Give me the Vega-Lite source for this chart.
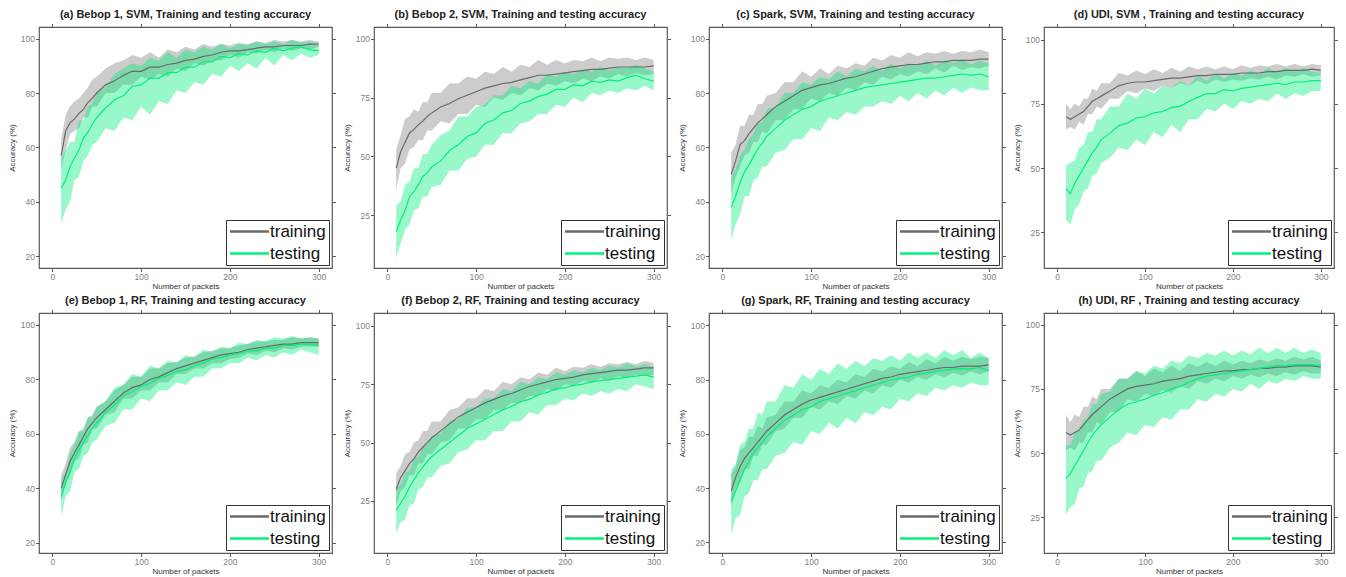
{
"$schema": "https://vega.github.io/schema/vega-lite/v6.json",
"background": "white",
"padding": {"left": 7, "top": 8, "right": 0, "bottom": 0},
"config": {
 "font": "Liberation Sans",
 "view": {"stroke": "#595959", "strokeWidth": 1.2},
 "axis": {"grid": false, "domain": false, "tickColor": "#595959", "tickSize": 3.5, "labelColor": "#7f7f7f", "labelFontSize": 8.5, "labelPadding": 1, "titleFontSize": 8, "titleFontWeight": "normal", "titleColor": "#333333"},
 "axisX": {"titlePadding": 1},
 "axisY": {"titlePadding": 4},
 "title": {"fontSize": 11, "fontWeight": "bold", "color": "#222222", "frame": "group", "anchor": "middle", "offset": 3},
 "legend": {"orient": "bottom-right", "offset": 3, "labelFontSize": 17, "labelColor": "#111111", "symbolType": "M-3,0H3", "symbolSize": 169, "symbolStrokeWidth": 2.5, "symbolOffset": 12, "labelOffset": 12, "strokeColor": "#333333", "fillColor": "white", "padding": 3, "rowPadding": 4}
},
"datasets": {
"a": [
{"x":10,"a":57,"b":52,"c":63,"d":45,"e":32,"f":56},
{"x":15,"a":66,"b":59,"c":72,"d":48,"e":37,"f":59},
{"x":20,"a":69,"b":65,"c":75,"d":53,"e":40,"f":62},
{"x":25,"a":70.5,"b":66,"c":77,"d":56,"e":48,"f":62},
{"x":30,"a":72.5,"b":67,"c":78,"d":59,"e":49,"f":70},
{"x":35,"a":74,"b":71,"c":80,"d":63.5,"e":55,"f":70},
{"x":40,"a":76.5,"b":71,"c":82,"d":65.5,"e":57,"f":75},
{"x":45,"a":78,"b":75,"c":85,"d":68.5,"e":61,"f":76},
{"x":50,"a":80,"b":75,"c":86,"d":71,"e":62,"f":80},
{"x":60,"a":83,"b":80,"c":89,"d":74.5,"e":67,"f":82},
{"x":70,"a":84.5,"b":80,"c":91,"d":77.5,"e":66,"f":87},
{"x":80,"a":86.5,"b":83,"c":92,"d":79,"e":71,"f":89},
{"x":90,"a":88,"b":83,"c":94,"d":82.5,"e":70,"f":91},
{"x":100,"a":88,"b":86,"c":93,"d":83,"e":75,"f":90},
{"x":110,"a":89.5,"b":85,"c":95,"d":85.5,"e":72,"f":93},
{"x":120,"a":89.5,"b":87,"c":93,"d":85.5,"e":77,"f":92},
{"x":130,"a":90.5,"b":86,"c":96,"d":87.5,"e":76,"f":95},
{"x":140,"a":91,"b":89,"c":95,"d":87.5,"e":81,"f":93},
{"x":150,"a":92,"b":88,"c":97,"d":89.5,"e":80,"f":96},
{"x":160,"a":92.5,"b":91,"c":96,"d":89.5,"e":84,"f":95},
{"x":170,"a":93.5,"b":90,"c":98,"d":91.5,"e":83,"f":97},
{"x":180,"a":94,"b":92,"c":97,"d":91.5,"e":87,"f":96},
{"x":190,"a":95,"b":92,"c":98,"d":93.5,"e":86,"f":98},
{"x":200,"a":95.5,"b":94,"c":97.5,"d":93,"e":90,"f":96.5},
{"x":210,"a":95.5,"b":93,"c":98.5,"d":94.5,"e":88,"f":98},
{"x":220,"a":96,"b":95,"c":98,"d":94,"e":91,"f":97.5},
{"x":230,"a":96.5,"b":94.5,"c":99,"d":95.5,"e":89,"f":99},
{"x":240,"a":97,"b":96,"c":98.5,"d":95,"e":93,"f":98},
{"x":250,"a":97,"b":95,"c":99.5,"d":96.5,"e":90,"f":99},
{"x":260,"a":97.5,"b":96.5,"c":99,"d":95.5,"e":94,"f":98},
{"x":270,"a":97.5,"b":95.5,"c":99.5,"d":96.5,"e":92,"f":99.5},
{"x":280,"a":97.5,"b":96.5,"c":99,"d":97,"e":94.5,"f":98.5},
{"x":290,"a":98,"b":96,"c":99.5,"d":96,"e":93,"f":99},
{"x":300,"a":98,"b":97,"c":99,"d":95.5,"e":94,"f":97.5}
],
"b": [
{"x":10,"a":45,"b":36,"c":53,"d":18,"e":7,"f":29},
{"x":15,"a":52,"b":45,"c":59,"d":23,"e":13,"f":31},
{"x":20,"a":56,"b":47,"c":66,"d":27,"e":19,"f":38},
{"x":25,"a":60,"b":53,"c":67,"d":33,"e":21,"f":39},
{"x":30,"a":61.5,"b":54,"c":70,"d":35,"e":27,"f":45},
{"x":35,"a":63.5,"b":57,"c":69,"d":38,"e":28,"f":45},
{"x":40,"a":65,"b":57,"c":73,"d":41.5,"e":33,"f":51},
{"x":45,"a":67,"b":61,"c":73,"d":43,"e":33,"f":51},
{"x":50,"a":68.5,"b":61,"c":77,"d":45.5,"e":37,"f":55},
{"x":60,"a":71,"b":65,"c":77,"d":48,"e":38,"f":59},
{"x":70,"a":72.5,"b":64,"c":81,"d":52.5,"e":44,"f":61},
{"x":80,"a":74.5,"b":68,"c":81,"d":55,"e":44,"f":67},
{"x":90,"a":76,"b":68,"c":84,"d":58.5,"e":49,"f":67},
{"x":100,"a":77.5,"b":72,"c":83,"d":60,"e":50,"f":71},
{"x":110,"a":79,"b":71,"c":86,"d":64,"e":55,"f":72},
{"x":120,"a":80,"b":75,"c":85,"d":65.5,"e":55,"f":76},
{"x":130,"a":81,"b":74,"c":88,"d":68.5,"e":60,"f":76},
{"x":140,"a":81.5,"b":77,"c":86,"d":69.5,"e":60,"f":80},
{"x":150,"a":82.5,"b":76,"c":89,"d":72.5,"e":64,"f":79},
{"x":160,"a":83.5,"b":79,"c":88,"d":73.5,"e":65,"f":82},
{"x":170,"a":84.5,"b":78,"c":91,"d":75.5,"e":68,"f":81},
{"x":180,"a":84.5,"b":81,"c":89,"d":76.5,"e":68,"f":85},
{"x":190,"a":85,"b":80,"c":91,"d":78.5,"e":72,"f":84},
{"x":200,"a":85.5,"b":82,"c":89.5,"d":78.5,"e":71,"f":86},
{"x":210,"a":86,"b":81,"c":91,"d":80.5,"e":75,"f":85},
{"x":220,"a":86.5,"b":83,"c":90.5,"d":80,"e":73,"f":87},
{"x":230,"a":87,"b":82,"c":92,"d":82,"e":77,"f":86},
{"x":240,"a":87,"b":84,"c":90.5,"d":81.5,"e":76,"f":88},
{"x":250,"a":87.5,"b":83,"c":92,"d":82.5,"e":78,"f":86.5},
{"x":260,"a":88,"b":85,"c":91.5,"d":82,"e":77,"f":88},
{"x":270,"a":88,"b":84,"c":92,"d":83.5,"e":79,"f":87.5},
{"x":280,"a":88,"b":85.5,"c":91,"d":84.5,"e":78,"f":89},
{"x":290,"a":88,"b":84.5,"c":92,"d":83,"e":80,"f":87.5},
{"x":300,"a":88.5,"b":85,"c":91,"d":82,"e":78,"f":86}
],
"c": [
{"x":10,"a":50,"b":43,"c":58,"d":38,"e":26,"f":49},
{"x":15,"a":55,"b":49,"c":61,"d":42,"e":32,"f":52},
{"x":20,"a":61,"b":53,"c":68,"d":47,"e":35,"f":57},
{"x":25,"a":62.5,"b":57,"c":68,"d":51,"e":42,"f":59},
{"x":30,"a":65,"b":58,"c":72,"d":53.5,"e":42,"f":63},
{"x":35,"a":67,"b":62,"c":72,"d":56.5,"e":48,"f":65},
{"x":40,"a":69,"b":62,"c":76,"d":59.5,"e":49,"f":69},
{"x":45,"a":70.5,"b":66,"c":76,"d":61.5,"e":53,"f":69},
{"x":50,"a":72,"b":65,"c":79,"d":64,"e":53,"f":74},
{"x":60,"a":75,"b":70,"c":80,"d":67,"e":58,"f":75},
{"x":70,"a":77,"b":70,"c":84,"d":70,"e":59,"f":80},
{"x":80,"a":79,"b":74,"c":84,"d":72,"e":63,"f":80},
{"x":90,"a":81,"b":74,"c":88,"d":74,"e":63,"f":84},
{"x":100,"a":82,"b":78,"c":86,"d":75,"e":67,"f":83},
{"x":110,"a":83,"b":77,"c":89,"d":77,"e":66,"f":86},
{"x":120,"a":83.5,"b":80,"c":87,"d":78,"e":71,"f":85},
{"x":130,"a":84.5,"b":79,"c":90,"d":79,"e":70,"f":88},
{"x":140,"a":85.5,"b":82,"c":89,"d":80,"e":73,"f":86},
{"x":150,"a":86,"b":81,"c":91,"d":81,"e":72,"f":89},
{"x":160,"a":87,"b":84,"c":90,"d":82,"e":75,"f":88},
{"x":170,"a":88,"b":83,"c":93,"d":82.5,"e":75,"f":90},
{"x":180,"a":89,"b":86,"c":92,"d":83,"e":77,"f":88},
{"x":190,"a":89.5,"b":85,"c":94,"d":83.5,"e":76,"f":91},
{"x":200,"a":90,"b":87,"c":93,"d":84,"e":79,"f":89},
{"x":210,"a":90.5,"b":86,"c":95,"d":84.5,"e":77,"f":91},
{"x":220,"a":90.5,"b":88,"c":93.5,"d":85,"e":80,"f":90},
{"x":230,"a":91,"b":87,"c":95,"d":85.5,"e":78,"f":92},
{"x":240,"a":91.5,"b":89,"c":94.5,"d":85.5,"e":81,"f":90},
{"x":250,"a":91.5,"b":87.5,"c":95.5,"d":86,"e":79,"f":92},
{"x":260,"a":92,"b":90,"c":94.5,"d":86.5,"e":82,"f":91},
{"x":270,"a":92,"b":88.5,"c":95.5,"d":87,"e":80,"f":92.5},
{"x":280,"a":92,"b":89.5,"c":95,"d":86.5,"e":82,"f":90.5},
{"x":290,"a":92.5,"b":89,"c":96,"d":87,"e":81,"f":92},
{"x":300,"a":92.5,"b":90,"c":95,"d":86,"e":81,"f":91}
],
"d": [
{"x":10,"a":70,"b":65,"c":75,"d":42,"e":30,"f":51},
{"x":15,"a":69,"b":66,"c":73,"d":40,"e":28,"f":52},
{"x":20,"a":70,"b":65,"c":75,"d":44,"e":34,"f":53},
{"x":25,"a":71,"b":68,"c":74,"d":47,"e":36,"f":58},
{"x":30,"a":72,"b":67,"c":77,"d":50,"e":41,"f":59},
{"x":35,"a":74,"b":71,"c":77,"d":53,"e":42,"f":64},
{"x":40,"a":76,"b":71,"c":81,"d":56,"e":47,"f":64},
{"x":45,"a":77,"b":74,"c":80,"d":58,"e":48,"f":69},
{"x":50,"a":78,"b":73,"c":83,"d":61,"e":52,"f":69},
{"x":60,"a":80,"b":77,"c":83,"d":63.5,"e":54,"f":74},
{"x":70,"a":82,"b":77,"c":87,"d":66.5,"e":58,"f":74},
{"x":80,"a":83,"b":80,"c":86,"d":67.5,"e":57,"f":79},
{"x":90,"a":83.5,"b":79,"c":88,"d":69.5,"e":61,"f":77},
{"x":100,"a":83.5,"b":81,"c":86.5,"d":70,"e":59,"f":81},
{"x":110,"a":84,"b":80,"c":88.5,"d":71.5,"e":64,"f":79},
{"x":120,"a":84.5,"b":82,"c":87,"d":72,"e":62,"f":82},
{"x":130,"a":85,"b":81,"c":89,"d":73.5,"e":67,"f":81},
{"x":140,"a":85,"b":83,"c":87.5,"d":74,"e":64,"f":84},
{"x":150,"a":85.5,"b":82,"c":89.5,"d":76,"e":69,"f":82},
{"x":160,"a":86,"b":84,"c":88.5,"d":77.5,"e":69,"f":86},
{"x":170,"a":86,"b":82.5,"c":89.5,"d":79,"e":73,"f":84},
{"x":180,"a":86.5,"b":84.5,"c":88.5,"d":79,"e":72,"f":87},
{"x":190,"a":86.5,"b":83.5,"c":89.5,"d":80.5,"e":75,"f":85},
{"x":200,"a":86.5,"b":84.5,"c":88.5,"d":80,"e":73,"f":87},
{"x":210,"a":87,"b":84,"c":90,"d":81,"e":76,"f":86},
{"x":220,"a":87,"b":85,"c":89,"d":81.5,"e":75,"f":88},
{"x":230,"a":87,"b":84.5,"c":90,"d":82,"e":77,"f":86.5},
{"x":240,"a":87.5,"b":85.5,"c":89.5,"d":82.5,"e":76,"f":89},
{"x":250,"a":87.5,"b":84.5,"c":90.5,"d":83,"e":79,"f":87.5},
{"x":260,"a":88,"b":86,"c":89.5,"d":82.5,"e":77,"f":89},
{"x":270,"a":88,"b":85.5,"c":90.5,"d":83.5,"e":79,"f":87.5},
{"x":280,"a":88,"b":86.5,"c":89.5,"d":83.5,"e":78,"f":89},
{"x":290,"a":88.5,"b":85.5,"c":90.5,"d":84,"e":80,"f":87.5},
{"x":300,"a":88,"b":86,"c":90,"d":84,"e":80,"f":87}
],
"e": [
{"x":10,"a":40,"b":35,"c":45,"d":37,"e":30,"f":43},
{"x":15,"a":45,"b":42,"c":49,"d":42,"e":37,"f":46},
{"x":20,"a":50,"b":45,"c":55,"d":46,"e":39,"f":53},
{"x":25,"a":53,"b":50,"c":57,"d":51,"e":46,"f":56},
{"x":30,"a":56,"b":51,"c":61,"d":54,"e":47,"f":61},
{"x":35,"a":59,"b":56,"c":62,"d":57,"e":52,"f":61},
{"x":40,"a":62,"b":57,"c":66,"d":59.5,"e":53,"f":66},
{"x":45,"a":64,"b":62,"c":67,"d":62,"e":57,"f":66},
{"x":50,"a":66,"b":62,"c":70,"d":64,"e":58,"f":70},
{"x":60,"a":69,"b":67,"c":72,"d":68,"e":63,"f":72},
{"x":70,"a":72,"b":68,"c":76,"d":70.5,"e":64,"f":77},
{"x":80,"a":75,"b":73,"c":78,"d":74,"e":69,"f":78},
{"x":90,"a":77,"b":73,"c":81,"d":75.5,"e":69,"f":82},
{"x":100,"a":78,"b":76,"c":81,"d":77.5,"e":73,"f":81},
{"x":110,"a":80,"b":76,"c":84,"d":78.5,"e":72,"f":85},
{"x":120,"a":81,"b":79,"c":84,"d":80.5,"e":76,"f":84},
{"x":130,"a":82.5,"b":79,"c":86,"d":81.5,"e":76,"f":87},
{"x":140,"a":84,"b":82,"c":86.5,"d":83,"e":79,"f":86},
{"x":150,"a":85,"b":82,"c":88,"d":83.5,"e":78,"f":89},
{"x":160,"a":86,"b":84,"c":88.5,"d":85,"e":81,"f":88},
{"x":170,"a":87,"b":84,"c":90,"d":86,"e":81,"f":91},
{"x":180,"a":88,"b":86,"c":90.5,"d":87.5,"e":84,"f":90},
{"x":190,"a":89,"b":86,"c":91.5,"d":88,"e":84,"f":92},
{"x":200,"a":89.5,"b":87.5,"c":91.5,"d":89,"e":86,"f":91.5},
{"x":210,"a":90,"b":88,"c":92.5,"d":89.5,"e":86,"f":93.5},
{"x":220,"a":91,"b":89.5,"c":93,"d":90.5,"e":88,"f":93},
{"x":230,"a":91.5,"b":89,"c":94,"d":90.5,"e":87,"f":94.5},
{"x":240,"a":92,"b":90.5,"c":94,"d":91.5,"e":89,"f":94},
{"x":250,"a":92.5,"b":90,"c":94.5,"d":91.5,"e":88,"f":95.5},
{"x":260,"a":93,"b":91.5,"c":94.5,"d":92.5,"e":90,"f":95},
{"x":270,"a":93,"b":91,"c":95.5,"d":92.5,"e":89,"f":96},
{"x":280,"a":93.5,"b":92,"c":95,"d":93,"e":91,"f":95},
{"x":290,"a":93.5,"b":92,"c":95.5,"d":93,"e":90,"f":95.5},
{"x":300,"a":93.5,"b":92,"c":95,"d":92.5,"e":89,"f":95}
],
"f": [
{"x":10,"a":30,"b":23,"c":37,"d":21,"e":11,"f":30},
{"x":15,"a":35,"b":29,"c":40,"d":24,"e":16,"f":32},
{"x":20,"a":38,"b":31,"c":45,"d":27,"e":17,"f":37},
{"x":25,"a":41,"b":36,"c":46,"d":31,"e":23,"f":38},
{"x":30,"a":43,"b":36,"c":50,"d":34,"e":24,"f":43},
{"x":35,"a":46,"b":41,"c":51,"d":37,"e":30,"f":44},
{"x":40,"a":48,"b":41,"c":55,"d":39.5,"e":31,"f":48},
{"x":45,"a":50,"b":45,"c":55,"d":42,"e":35,"f":49},
{"x":50,"a":52,"b":45,"c":59,"d":44,"e":35,"f":53},
{"x":60,"a":55,"b":50,"c":59,"d":47,"e":40,"f":54},
{"x":70,"a":58,"b":51,"c":64,"d":50,"e":41,"f":59},
{"x":80,"a":61,"b":56,"c":65,"d":53,"e":46,"f":60},
{"x":90,"a":63,"b":56,"c":69,"d":56,"e":47,"f":65},
{"x":100,"a":65,"b":60,"c":69,"d":58,"e":51,"f":65},
{"x":110,"a":67,"b":60,"c":73,"d":60,"e":51,"f":69},
{"x":120,"a":68.5,"b":64,"c":72,"d":62,"e":55,"f":69},
{"x":130,"a":70,"b":64,"c":76,"d":64,"e":55,"f":73},
{"x":140,"a":71,"b":67,"c":75,"d":65.5,"e":59,"f":72},
{"x":150,"a":72.5,"b":67,"c":78,"d":67.5,"e":59,"f":76},
{"x":160,"a":74,"b":70,"c":77,"d":68.5,"e":63,"f":75},
{"x":170,"a":75,"b":70,"c":80,"d":70.5,"e":62,"f":78},
{"x":180,"a":76,"b":73,"c":79,"d":71.5,"e":66,"f":77},
{"x":190,"a":77,"b":72,"c":82,"d":73,"e":66,"f":80},
{"x":200,"a":77.5,"b":75,"c":80.5,"d":73.5,"e":69,"f":79},
{"x":210,"a":78,"b":74,"c":82.5,"d":74.5,"e":68,"f":81},
{"x":220,"a":79,"b":76.5,"c":82,"d":75,"e":71,"f":80},
{"x":230,"a":79.5,"b":75.5,"c":83.5,"d":76,"e":70,"f":82},
{"x":240,"a":80,"b":77.5,"c":82.5,"d":76.5,"e":72,"f":81},
{"x":250,"a":80.5,"b":76.5,"c":84,"d":77,"e":71,"f":83},
{"x":260,"a":81,"b":78.5,"c":83.5,"d":77.5,"e":73,"f":82},
{"x":270,"a":81,"b":77.5,"c":84.5,"d":78,"e":72,"f":84},
{"x":280,"a":81.5,"b":79,"c":83.5,"d":78.5,"e":75,"f":82.5},
{"x":290,"a":82,"b":78.5,"c":85,"d":79,"e":74,"f":83.5},
{"x":300,"a":82,"b":79,"c":84,"d":78,"e":73,"f":82}
],
"g": [
{"x":10,"a":39,"b":33,"c":45,"d":35,"e":23,"f":47},
{"x":15,"a":44,"b":40,"c":48,"d":39,"e":29,"f":49},
{"x":20,"a":48,"b":42,"c":54,"d":43,"e":30,"f":56},
{"x":25,"a":51,"b":47,"c":55,"d":47,"e":37,"f":57},
{"x":30,"a":53,"b":47,"c":59,"d":50,"e":38,"f":62},
{"x":35,"a":55,"b":52,"c":59,"d":53,"e":43,"f":62},
{"x":40,"a":57,"b":52,"c":63,"d":55,"e":43,"f":68},
{"x":45,"a":59,"b":56,"c":62,"d":57,"e":47,"f":67},
{"x":50,"a":61,"b":56,"c":66,"d":59,"e":47,"f":72},
{"x":60,"a":64,"b":61,"c":67,"d":62,"e":52,"f":72},
{"x":70,"a":67,"b":62,"c":72,"d":65,"e":53,"f":78},
{"x":80,"a":69,"b":66,"c":72,"d":67,"e":57,"f":77},
{"x":90,"a":71,"b":66,"c":76,"d":69,"e":56,"f":82},
{"x":100,"a":72.5,"b":70,"c":75,"d":70,"e":61,"f":80},
{"x":110,"a":73.5,"b":69,"c":78,"d":72,"e":60,"f":84},
{"x":120,"a":74.5,"b":72,"c":77,"d":73,"e":64,"f":82},
{"x":130,"a":75.5,"b":71,"c":80,"d":74,"e":62,"f":86},
{"x":140,"a":76.5,"b":74,"c":79,"d":75,"e":66,"f":84},
{"x":150,"a":77.5,"b":73,"c":82,"d":76,"e":64,"f":87},
{"x":160,"a":78.5,"b":76,"c":81,"d":77,"e":68,"f":85},
{"x":170,"a":79.5,"b":75,"c":84,"d":78,"e":67,"f":88},
{"x":180,"a":80.5,"b":78,"c":83,"d":79,"e":70,"f":87},
{"x":190,"a":81,"b":77,"c":85,"d":80,"e":69,"f":89},
{"x":200,"a":82,"b":80,"c":84,"d":80.5,"e":73,"f":87},
{"x":210,"a":82.5,"b":79,"c":86.5,"d":81,"e":72,"f":90},
{"x":220,"a":83,"b":81,"c":85,"d":82,"e":75,"f":88},
{"x":230,"a":83.5,"b":80,"c":87.5,"d":82.5,"e":74,"f":90},
{"x":240,"a":84,"b":82,"c":86,"d":83,"e":77,"f":88},
{"x":250,"a":84.5,"b":81,"c":88.5,"d":83.5,"e":76,"f":91},
{"x":260,"a":84.5,"b":82.5,"c":87,"d":84,"e":78,"f":89},
{"x":270,"a":85,"b":81.5,"c":88.5,"d":84,"e":77,"f":91},
{"x":280,"a":85,"b":83,"c":87.5,"d":84,"e":79,"f":88},
{"x":290,"a":85,"b":82,"c":88.5,"d":84.5,"e":78,"f":90},
{"x":300,"a":85.5,"b":83,"c":88,"d":83.5,"e":78,"f":88}
],
"h": [
{"x":10,"a":58,"b":51,"c":65,"d":40,"e":26,"f":53},
{"x":15,"a":57,"b":52,"c":62,"d":42,"e":29,"f":53},
{"x":20,"a":58,"b":51,"c":65,"d":45,"e":30,"f":58},
{"x":25,"a":59,"b":54,"c":64,"d":48,"e":36,"f":59},
{"x":30,"a":61,"b":54,"c":68,"d":51,"e":37,"f":63},
{"x":35,"a":63,"b":58,"c":68,"d":54,"e":42,"f":64},
{"x":40,"a":65,"b":58,"c":72,"d":57,"e":43,"f":69},
{"x":45,"a":66.5,"b":62,"c":71,"d":59,"e":47,"f":69},
{"x":50,"a":68,"b":61,"c":75,"d":61,"e":47,"f":73},
{"x":60,"a":71,"b":66,"c":75,"d":64,"e":52,"f":74},
{"x":70,"a":73,"b":66,"c":79,"d":67,"e":54,"f":79},
{"x":80,"a":75,"b":71,"c":79,"d":69,"e":58,"f":79},
{"x":90,"a":76,"b":70,"c":82,"d":70,"e":57,"f":82},
{"x":100,"a":76.5,"b":73,"c":80,"d":71,"e":61,"f":81},
{"x":110,"a":77,"b":72,"c":83,"d":72.5,"e":60,"f":84},
{"x":120,"a":78,"b":74.5,"c":81.5,"d":73.5,"e":64,"f":83},
{"x":130,"a":78.5,"b":73.5,"c":84,"d":75,"e":63,"f":86},
{"x":140,"a":79,"b":76,"c":82,"d":76,"e":67,"f":85},
{"x":150,"a":80,"b":75,"c":85,"d":77.5,"e":67,"f":88},
{"x":160,"a":80.5,"b":78,"c":83.5,"d":79,"e":71,"f":87},
{"x":170,"a":81,"b":77,"c":85.5,"d":80,"e":70,"f":89},
{"x":180,"a":81.5,"b":79,"c":84,"d":80.5,"e":73,"f":88},
{"x":190,"a":82,"b":78,"c":86,"d":81,"e":72,"f":90},
{"x":200,"a":82,"b":80,"c":84.5,"d":81.5,"e":75,"f":88},
{"x":210,"a":82.5,"b":79,"c":86,"d":82,"e":74,"f":90},
{"x":220,"a":82.5,"b":80.5,"c":85,"d":82.5,"e":77,"f":88.5},
{"x":230,"a":83,"b":79.5,"c":86.5,"d":83,"e":75,"f":91},
{"x":240,"a":83,"b":81,"c":85.5,"d":83.5,"e":78,"f":89},
{"x":250,"a":83.5,"b":80,"c":87,"d":84,"e":77,"f":91},
{"x":260,"a":83.5,"b":81.5,"c":86,"d":84,"e":79,"f":89},
{"x":270,"a":84,"b":80.5,"c":87.5,"d":84.5,"e":78,"f":91},
{"x":280,"a":84,"b":82,"c":86.5,"d":84.5,"e":80,"f":89},
{"x":290,"a":84,"b":81,"c":87.5,"d":84.5,"e":79,"f":90.5},
{"x":300,"a":83.5,"b":81,"c":86,"d":84,"e":79,"f":89}
]
},
"spacing": 3,
"resolve": {"scale": {"color": "independent"}, "legend": {"color": "independent"}},
"vconcat": [
{"hconcat": [
{"width": 293, "height": 241, "title": "(a) Bebop 1, SVM, Training and testing accuracy", "data": {"name": "a"},
 "resolve": {"axis": {"x": "independent", "y": "independent"}},
 "layer": [
  {"mark": {"type": "area", "color": "#999999", "opacity": 0.5}, "encoding": {"x": {"field": "x", "type": "quantitative", "scale": {"domain": [-15, 315], "nice": false, "zero": false}, "axis": {"values": [0, 100, 200, 300], "title": "Number of packets"}}, "y": {"field": "b", "type": "quantitative", "scale": {"domain": [15.6, 104.3], "nice": false, "zero": false}, "axis": {"values": [20, 40, 60, 80, 100], "title": "Accuracy (%)"}}, "y2": {"field": "c"}}},
  {"mark": {"type": "area", "color": "#00ee77", "opacity": 0.4}, "encoding": {"x": {"field": "x", "type": "quantitative", "axis": null}, "y": {"field": "e", "type": "quantitative", "axis": null}, "y2": {"field": "f"}}},
  {"mark": {"type": "line", "strokeWidth": 1.2}, "encoding": {"x": {"field": "x", "type": "quantitative", "axis": null}, "y": {"field": "a", "type": "quantitative", "axis": null}, "color": {"datum": "training", "type": "nominal", "scale": {"domain": ["training", "testing"], "range": ["#6a6a6a", "#00f07a"]}, "legend": {"title": null}}}},
  {"mark": {"type": "line", "strokeWidth": 1.2}, "encoding": {"x": {"field": "x", "type": "quantitative", "axis": {"orient": "top", "labels": false, "title": null, "values": [0, 100, 200, 300]}}, "y": {"field": "d", "type": "quantitative", "axis": {"orient": "right", "labels": false, "title": null, "values": [20, 40, 60, 80, 100]}}, "color": {"datum": "testing", "type": "nominal"}}}
 ]},
{"width": 293, "height": 241, "title": "(b) Bebop 2, SVM, Training and testing accuracy", "data": {"name": "b"},
 "resolve": {"axis": {"x": "independent", "y": "independent"}},
 "layer": [
  {"mark": {"type": "area", "color": "#999999", "opacity": 0.5}, "encoding": {"x": {"field": "x", "type": "quantitative", "scale": {"domain": [-15, 315], "nice": false, "zero": false}, "axis": {"values": [0, 100, 200, 300], "title": "Number of packets"}}, "y": {"field": "b", "type": "quantitative", "scale": {"domain": [2.6, 105], "nice": false, "zero": false}, "axis": {"values": [25, 50, 75, 100], "title": "Accuracy (%)"}}, "y2": {"field": "c"}}},
  {"mark": {"type": "area", "color": "#00ee77", "opacity": 0.4}, "encoding": {"x": {"field": "x", "type": "quantitative", "axis": null}, "y": {"field": "e", "type": "quantitative", "axis": null}, "y2": {"field": "f"}}},
  {"mark": {"type": "line", "strokeWidth": 1.2}, "encoding": {"x": {"field": "x", "type": "quantitative", "axis": null}, "y": {"field": "a", "type": "quantitative", "axis": null}, "color": {"datum": "training", "type": "nominal", "scale": {"domain": ["training", "testing"], "range": ["#6a6a6a", "#00f07a"]}, "legend": {"title": null}}}},
  {"mark": {"type": "line", "strokeWidth": 1.2}, "encoding": {"x": {"field": "x", "type": "quantitative", "axis": {"orient": "top", "labels": false, "title": null, "values": [0, 100, 200, 300]}}, "y": {"field": "d", "type": "quantitative", "axis": {"orient": "right", "labels": false, "title": null, "values": [25, 50, 75, 100]}}, "color": {"datum": "testing", "type": "nominal"}}}
 ]},
{"width": 293, "height": 241, "title": "(c) Spark, SVM, Training and testing accuracy", "data": {"name": "c"},
 "resolve": {"axis": {"x": "independent", "y": "independent"}},
 "layer": [
  {"mark": {"type": "area", "color": "#999999", "opacity": 0.5}, "encoding": {"x": {"field": "x", "type": "quantitative", "scale": {"domain": [-15, 315], "nice": false, "zero": false}, "axis": {"values": [0, 100, 200, 300], "title": "Number of packets"}}, "y": {"field": "b", "type": "quantitative", "scale": {"domain": [15.6, 104.3], "nice": false, "zero": false}, "axis": {"values": [20, 40, 60, 80, 100], "title": "Accuracy (%)"}}, "y2": {"field": "c"}}},
  {"mark": {"type": "area", "color": "#00ee77", "opacity": 0.4}, "encoding": {"x": {"field": "x", "type": "quantitative", "axis": null}, "y": {"field": "e", "type": "quantitative", "axis": null}, "y2": {"field": "f"}}},
  {"mark": {"type": "line", "strokeWidth": 1.2}, "encoding": {"x": {"field": "x", "type": "quantitative", "axis": null}, "y": {"field": "a", "type": "quantitative", "axis": null}, "color": {"datum": "training", "type": "nominal", "scale": {"domain": ["training", "testing"], "range": ["#6a6a6a", "#00f07a"]}, "legend": {"title": null}}}},
  {"mark": {"type": "line", "strokeWidth": 1.2}, "encoding": {"x": {"field": "x", "type": "quantitative", "axis": {"orient": "top", "labels": false, "title": null, "values": [0, 100, 200, 300]}}, "y": {"field": "d", "type": "quantitative", "axis": {"orient": "right", "labels": false, "title": null, "values": [20, 40, 60, 80, 100]}}, "color": {"datum": "testing", "type": "nominal"}}}
 ]},
{"width": 290, "height": 241, "title": "(d) UDI, SVM , Training and testing accuracy", "data": {"name": "d"},
 "resolve": {"axis": {"x": "independent", "y": "independent"}},
 "layer": [
  {"mark": {"type": "area", "color": "#999999", "opacity": 0.5}, "encoding": {"x": {"field": "x", "type": "quantitative", "scale": {"domain": [-15, 315], "nice": false, "zero": false}, "axis": {"values": [0, 100, 200, 300], "title": "Number of packets"}}, "y": {"field": "b", "type": "quantitative", "scale": {"domain": [11.1, 104.9], "nice": false, "zero": false}, "axis": {"values": [25, 50, 75, 100], "title": "Accuracy (%)"}}, "y2": {"field": "c"}}},
  {"mark": {"type": "area", "color": "#00ee77", "opacity": 0.4}, "encoding": {"x": {"field": "x", "type": "quantitative", "axis": null}, "y": {"field": "e", "type": "quantitative", "axis": null}, "y2": {"field": "f"}}},
  {"mark": {"type": "line", "strokeWidth": 1.2}, "encoding": {"x": {"field": "x", "type": "quantitative", "axis": null}, "y": {"field": "a", "type": "quantitative", "axis": null}, "color": {"datum": "training", "type": "nominal", "scale": {"domain": ["training", "testing"], "range": ["#6a6a6a", "#00f07a"]}, "legend": {"title": null}}}},
  {"mark": {"type": "line", "strokeWidth": 1.2}, "encoding": {"x": {"field": "x", "type": "quantitative", "axis": {"orient": "top", "labels": false, "title": null, "values": [0, 100, 200, 300]}}, "y": {"field": "d", "type": "quantitative", "axis": {"orient": "right", "labels": false, "title": null, "values": [25, 50, 75, 100]}}, "color": {"datum": "testing", "type": "nominal"}}}
 ]}
], "spacing": 5, "resolve": {"scale": {"color": "independent"}, "legend": {"color": "independent"}}},
{"hconcat": [
{"width": 293, "height": 240, "title": "(e) Bebop 1, RF, Training and testing accuracy", "data": {"name": "e"},
 "resolve": {"axis": {"x": "independent", "y": "independent"}},
 "layer": [
  {"mark": {"type": "area", "color": "#999999", "opacity": 0.5}, "encoding": {"x": {"field": "x", "type": "quantitative", "scale": {"domain": [-15, 315], "nice": false, "zero": false}, "axis": {"values": [0, 100, 200, 300], "title": "Number of packets"}}, "y": {"field": "b", "type": "quantitative", "scale": {"domain": [16.3, 104.4], "nice": false, "zero": false}, "axis": {"values": [20, 40, 60, 80, 100], "title": "Accuracy (%)"}}, "y2": {"field": "c"}}},
  {"mark": {"type": "area", "color": "#00ee77", "opacity": 0.4}, "encoding": {"x": {"field": "x", "type": "quantitative", "axis": null}, "y": {"field": "e", "type": "quantitative", "axis": null}, "y2": {"field": "f"}}},
  {"mark": {"type": "line", "strokeWidth": 1.2}, "encoding": {"x": {"field": "x", "type": "quantitative", "axis": null}, "y": {"field": "a", "type": "quantitative", "axis": null}, "color": {"datum": "training", "type": "nominal", "scale": {"domain": ["training", "testing"], "range": ["#6a6a6a", "#00f07a"]}, "legend": {"title": null}}}},
  {"mark": {"type": "line", "strokeWidth": 1.2}, "encoding": {"x": {"field": "x", "type": "quantitative", "axis": {"orient": "top", "labels": false, "title": null, "values": [0, 100, 200, 300]}}, "y": {"field": "d", "type": "quantitative", "axis": {"orient": "right", "labels": false, "title": null, "values": [20, 40, 60, 80, 100]}}, "color": {"datum": "testing", "type": "nominal"}}}
 ]},
{"width": 293, "height": 240, "title": "(f) Bebop 2, RF, Training and testing accuracy", "data": {"name": "f"},
 "resolve": {"axis": {"x": "independent", "y": "independent"}},
 "layer": [
  {"mark": {"type": "area", "color": "#999999", "opacity": 0.5}, "encoding": {"x": {"field": "x", "type": "quantitative", "scale": {"domain": [-15, 315], "nice": false, "zero": false}, "axis": {"values": [0, 100, 200, 300], "title": "Number of packets"}}, "y": {"field": "b", "type": "quantitative", "scale": {"domain": [2.7, 105.5], "nice": false, "zero": false}, "axis": {"values": [25, 50, 75, 100], "title": "Accuracy (%)"}}, "y2": {"field": "c"}}},
  {"mark": {"type": "area", "color": "#00ee77", "opacity": 0.4}, "encoding": {"x": {"field": "x", "type": "quantitative", "axis": null}, "y": {"field": "e", "type": "quantitative", "axis": null}, "y2": {"field": "f"}}},
  {"mark": {"type": "line", "strokeWidth": 1.2}, "encoding": {"x": {"field": "x", "type": "quantitative", "axis": null}, "y": {"field": "a", "type": "quantitative", "axis": null}, "color": {"datum": "training", "type": "nominal", "scale": {"domain": ["training", "testing"], "range": ["#6a6a6a", "#00f07a"]}, "legend": {"title": null}}}},
  {"mark": {"type": "line", "strokeWidth": 1.2}, "encoding": {"x": {"field": "x", "type": "quantitative", "axis": {"orient": "top", "labels": false, "title": null, "values": [0, 100, 200, 300]}}, "y": {"field": "d", "type": "quantitative", "axis": {"orient": "right", "labels": false, "title": null, "values": [25, 50, 75, 100]}}, "color": {"datum": "testing", "type": "nominal"}}}
 ]},
{"width": 293, "height": 240, "title": "(g) Spark, RF, Training and testing accuracy", "data": {"name": "g"},
 "resolve": {"axis": {"x": "independent", "y": "independent"}},
 "layer": [
  {"mark": {"type": "area", "color": "#999999", "opacity": 0.5}, "encoding": {"x": {"field": "x", "type": "quantitative", "scale": {"domain": [-15, 315], "nice": false, "zero": false}, "axis": {"values": [0, 100, 200, 300], "title": "Number of packets"}}, "y": {"field": "b", "type": "quantitative", "scale": {"domain": [16.1, 104.6], "nice": false, "zero": false}, "axis": {"values": [20, 40, 60, 80, 100], "title": "Accuracy (%)"}}, "y2": {"field": "c"}}},
  {"mark": {"type": "area", "color": "#00ee77", "opacity": 0.4}, "encoding": {"x": {"field": "x", "type": "quantitative", "axis": null}, "y": {"field": "e", "type": "quantitative", "axis": null}, "y2": {"field": "f"}}},
  {"mark": {"type": "line", "strokeWidth": 1.2}, "encoding": {"x": {"field": "x", "type": "quantitative", "axis": null}, "y": {"field": "a", "type": "quantitative", "axis": null}, "color": {"datum": "training", "type": "nominal", "scale": {"domain": ["training", "testing"], "range": ["#6a6a6a", "#00f07a"]}, "legend": {"title": null}}}},
  {"mark": {"type": "line", "strokeWidth": 1.2}, "encoding": {"x": {"field": "x", "type": "quantitative", "axis": {"orient": "top", "labels": false, "title": null, "values": [0, 100, 200, 300]}}, "y": {"field": "d", "type": "quantitative", "axis": {"orient": "right", "labels": false, "title": null, "values": [20, 40, 60, 80, 100]}}, "color": {"datum": "testing", "type": "nominal"}}}
 ]},
{"width": 290, "height": 240, "title": "(h) UDI, RF , Training and testing accuracy", "data": {"name": "h"},
 "resolve": {"axis": {"x": "independent", "y": "independent"}},
 "layer": [
  {"mark": {"type": "area", "color": "#999999", "opacity": 0.5}, "encoding": {"x": {"field": "x", "type": "quantitative", "scale": {"domain": [-15, 315], "nice": false, "zero": false}, "axis": {"values": [0, 100, 200, 300], "title": "Number of packets"}}, "y": {"field": "b", "type": "quantitative", "scale": {"domain": [11, 104.6], "nice": false, "zero": false}, "axis": {"values": [25, 50, 75, 100], "title": "Accuracy (%)"}}, "y2": {"field": "c"}}},
  {"mark": {"type": "area", "color": "#00ee77", "opacity": 0.4}, "encoding": {"x": {"field": "x", "type": "quantitative", "axis": null}, "y": {"field": "e", "type": "quantitative", "axis": null}, "y2": {"field": "f"}}},
  {"mark": {"type": "line", "strokeWidth": 1.2}, "encoding": {"x": {"field": "x", "type": "quantitative", "axis": null}, "y": {"field": "a", "type": "quantitative", "axis": null}, "color": {"datum": "training", "type": "nominal", "scale": {"domain": ["training", "testing"], "range": ["#6a6a6a", "#00f07a"]}, "legend": {"title": null}}}},
  {"mark": {"type": "line", "strokeWidth": 1.2}, "encoding": {"x": {"field": "x", "type": "quantitative", "axis": {"orient": "top", "labels": false, "title": null, "values": [0, 100, 200, 300]}}, "y": {"field": "d", "type": "quantitative", "axis": {"orient": "right", "labels": false, "title": null, "values": [25, 50, 75, 100]}}, "color": {"datum": "testing", "type": "nominal"}}}
 ]}
], "spacing": 5, "resolve": {"scale": {"color": "independent"}, "legend": {"color": "independent"}}}
]
}
